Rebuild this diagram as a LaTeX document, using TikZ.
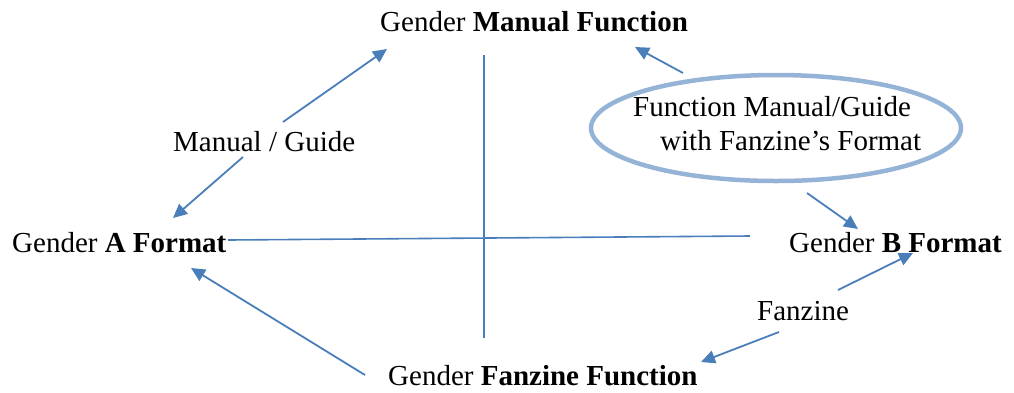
\documentclass[tikz,border=0pt]{standalone}
\usepackage{fontspec}
\setmainfont{Liberation Serif}
\usetikzlibrary{arrows.meta,shapes.geometric}
\definecolor{arrowblue}{HTML}{4A7EBB}
\definecolor{ringblue}{HTML}{95B3D7}
\begin{document}
\begin{tikzpicture}[x=1pt,y=-1pt,
  label/.style={inner sep=0pt,anchor=base west,font=\fontsize{29}{34}\selectfont},
  link/.style={draw=arrowblue,line width=1.8pt,-{Triangle[length=14pt,width=13pt]}},
  axis/.style={draw=arrowblue,line width=1.6pt},
  ring/.style={draw=ringblue,line width=4.5pt,ellipse,inner sep=0pt}]
\useasboundingbox (0,0) rectangle (1014,392);

% category labels
\node[label] (manfun) at (380,31) {Gender \textbf{Manual Function}};
\node[label] (aform) at (12,252) {Gender \textbf{A Format}};
\node[label] (bform) at (789,252) {Gender \textbf{B Format}};
\node[label] (fanfun) at (388,385) {Gender \textbf{Fanzine Function}};
\node[label] (manual) at (173,151) {Manual / Guide};
\node[label] (fanzine) at (757,320) {Fanzine};

% highlighted hybrid category
\node[ring,minimum width=370pt,minimum height=106pt] (ring) at (776,128) {};
\node[label] (hyb1) at (633,116) {Function Manual/Guide};
\node[label] (hyb2) at (660,150) {with Fanzine’s Format};

% axes
\coordinate (vtop) at (484,55);
\coordinate (vbot) at (484,338);
\coordinate (hleft) at (228,240);
\coordinate (hright) at (750,236);
\draw[axis] (vtop) -- (vbot);
\draw[axis] (hleft) -- (hright);

% arrow end points
\coordinate (m1s) at (283,122); \coordinate (m1t) at (387,49);
\coordinate (m2s) at (243,157); \coordinate (m2t) at (173,218);
\coordinate (r1s) at (683,73);  \coordinate (r1t) at (635,47);
\coordinate (r2s) at (807,193); \coordinate (r2t) at (858,229);
\coordinate (bfs) at (365,375); \coordinate (bft) at (191,268);
\coordinate (f1s) at (838,290); \coordinate (f1t) at (913,253);
\coordinate (f2s) at (779,332); \coordinate (f2t) at (701,362);

\draw[link] (m1s) -- (m1t);
\draw[link] (m2s) -- (m2t);
\draw[link] (r1s) -- (r1t);
\draw[link] (r2s) -- (r2t);
\draw[link] (bfs) -- (bft);
\draw[link] (f1s) -- (f1t);
\draw[link] (f2s) -- (f2t);
\end{tikzpicture}
\end{document}
